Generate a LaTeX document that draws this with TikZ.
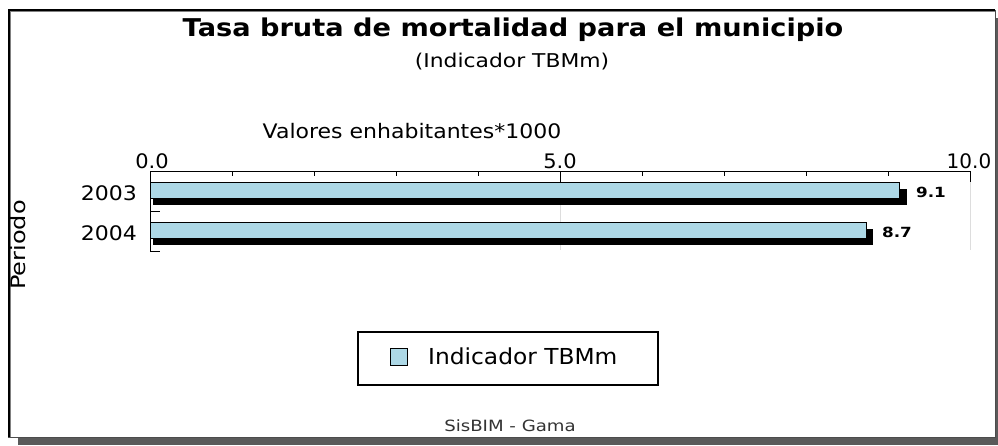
\documentclass[tikz,border=0pt]{standalone}
\usepackage{graphicx}
\usepackage{fontspec}
\setmainfont{DejaVu Sans}
\definecolor{barblue}{HTML}{ADD8E6}
\definecolor{shadowgray}{HTML}{5A5A5A}
\definecolor{gridgray}{HTML}{DDDDDD}
\newcommand{\wide}[2]{\scalebox{#1}[1]{#2}}
\begin{document}
\begin{tikzpicture}[x=1pt,y=-1pt,
  lbl/.style={inner sep=0pt,font=\fontsize{20}{20}\selectfont},
  vallbl/.style={inner sep=0pt,font=\bfseries\fontsize{14}{14}\selectfont},
  barbox/.style={draw=black,line width=1pt,fill=barblue},
  barshadow/.style={fill=black},
  tickline/.style={line width=1pt}]
\useasboundingbox (0,0) rectangle (998,445);
% frame with shadow
\fill[shadowgray] (18,18) rectangle (998,445);
\fill[white] (8,9) rectangle (995,437);
\draw[gray,line width=1pt] (10.5,437) -- (10.5,11.5) -- (995,11.5);
\draw[black,line width=2pt] (9,437) -- (9,10) -- (995,10);
\draw[black!70,line width=1pt] (8,437) -- (995,437) -- (995,10);
% titles
\node[inner sep=0pt,font=\bfseries\fontsize{24.5}{24.5}\selectfont] (title) at (513,30) {\wide{1.11}{Tasa bruta de mortalidad para el municipio}};
\node[inner sep=0pt,font=\fontsize{19}{19}\selectfont] (sub) at (512,62) {\wide{1.15}{(Indicador TBMm)}};
\node[lbl] (xtitle) at (412,131) {\wide{1.1}{Valores enhabitantes*1000}};
% grid lines
\draw[gridgray,line width=1pt] (560,182) -- (560,250);
\draw[gridgray,line width=1pt] (970,182) -- (970,250);
% bars with shadows
\fill[barshadow] (153,189) -- (907,189) -- (907,205) -- (153,205) -- cycle;
\node[barbox,minimum width=749pt,minimum height=16pt,inner sep=0pt,anchor=north west] (b2003) at (150,182) {};
\fill[barshadow] (153,229) -- (873,229) -- (873,245) -- (153,245) -- cycle;
\node[barbox,minimum width=716pt,minimum height=16pt,inner sep=0pt,anchor=north west] (b2004) at (150,222) {};
\node[vallbl] (v2003) at (931,192) {\wide{1.2}{9.1}};
\node[vallbl] (v2004) at (897,232) {\wide{1.2}{8.7}};
% axes
\draw[tickline] (150,252) -- (150,171) -- (970,171);
\foreach \i in {1,2,3,4,6,7,8,9} \draw[tickline] ({150+82*\i},171) -- ({150+82*\i},176);
\draw[tickline] (560,171) -- (560,182);
\draw[tickline] (970,171) -- (970,182);
\draw[tickline] (150,211) -- (160,211);
\draw[tickline] (150,251) -- (160,251);
\node[lbl] (t0) at (152,161) {\wide{1.05}{0.0}};
\node[lbl] (t5) at (560,161) {\wide{1.05}{5.0}};
\node[lbl] (t10) at (969,161) {\wide{1.0}{10.0}};
\node[lbl,anchor=east] (c2003) at (137,193) {\wide{1.1}{2003}};
\node[lbl,anchor=east] (c2004) at (137,233) {\wide{1.1}{2004}};
\node[lbl,rotate=90] (ytitle) at (18,245) {\wide{1.2}{Periodo}};
% legend
\node[draw=black,line width=1.5pt,minimum width=300pt,minimum height=53pt,inner sep=0pt] (legend) at (508,358.5) {};
\node[draw=black,line width=1pt,fill=barblue,minimum size=17pt,inner sep=0pt] (swatch) at (399,356.5) {};
\node[inner sep=0pt,font=\fontsize{22}{22}\selectfont,anchor=west] (legtxt) at (428,356) {\wide{1.06}{Indicador TBMm}};
% footer
\node[inner sep=0pt,font=\fontsize{15.5}{15.5}\selectfont,text=black!80] (foot) at (510,426) {\wide{1.17}{SisBIM - Gama}};
\end{tikzpicture}
\end{document}
